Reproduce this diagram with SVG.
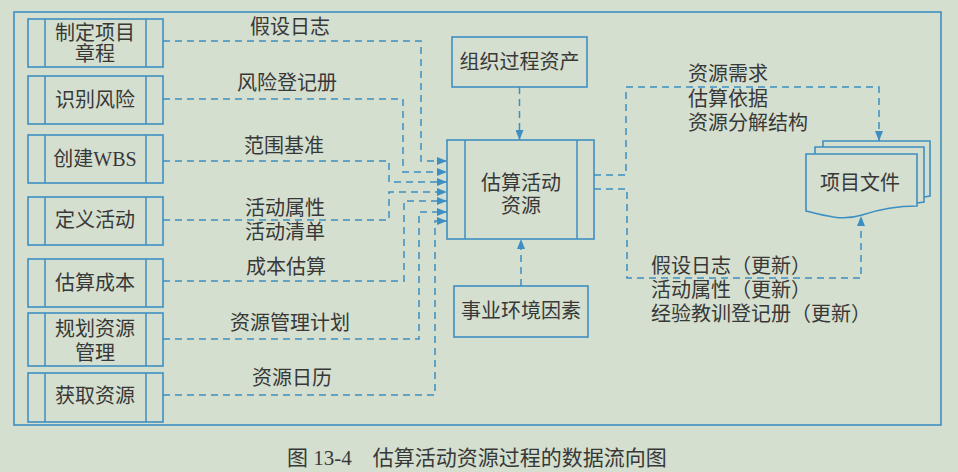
<svg xmlns="http://www.w3.org/2000/svg" width="958" height="472" viewBox="0 0 958 472">
<defs>
<style>
.bg{fill:#d4dfcf}
.box{fill:none;stroke:#3d8fc2;stroke-width:1.6}
.ln{fill:none;stroke:#3d8fc2;stroke-width:1.5}
.dash{fill:none;stroke:#3d8fc2;stroke-width:1.5;stroke-dasharray:7 5}
.t{font-family:"Liberation Serif","Noto Sans CJK SC",serif;font-size:20px;fill:#383838;dominant-baseline:central}
.c{text-anchor:middle}
.cap{font-family:"Liberation Serif","Noto Sans CJK SC",serif;font-size:21px;fill:#383838;dominant-baseline:central}
</style>
<marker id="ah" viewBox="0 0 10 8" refX="10" refY="4" markerWidth="10" markerHeight="8" markerUnits="userSpaceOnUse" orient="auto">
<path d="M0,0 L10,4 L0,8 z" fill="#3d8fc2"/>
</marker>
</defs>
<rect class="bg" x="0" y="0" width="958" height="472"/>
<rect id="frame" class="box" x="14" y="12" width="927" height="413"/>

<g id="n1"><rect class="box" x="28" y="19" width="135" height="48"/><line class="ln" x1="45" y1="19" x2="45" y2="67"/><line class="ln" x1="146" y1="19" x2="146" y2="67"/><text class="t c" x="95" y="33">制定项目</text><text class="t c" x="95" y="54">章程</text></g>
<g id="n2"><rect class="box" x="28" y="76" width="135" height="48"/><line class="ln" x1="45" y1="76" x2="45" y2="124"/><line class="ln" x1="146" y1="76" x2="146" y2="124"/><text class="t c" x="95" y="100">识别风险</text></g>
<g id="n3"><rect class="box" x="28" y="135" width="135" height="48"/><line class="ln" x1="45" y1="135" x2="45" y2="183"/><line class="ln" x1="146" y1="135" x2="146" y2="183"/><text class="t c" x="95" y="159">创建WBS</text></g>
<g id="n4"><rect class="box" x="28" y="197" width="135" height="48"/><line class="ln" x1="45" y1="197" x2="45" y2="245"/><line class="ln" x1="146" y1="197" x2="146" y2="245"/><text class="t c" x="95" y="220">定义活动</text></g>
<g id="n5"><rect class="box" x="28" y="259" width="135" height="48"/><line class="ln" x1="45" y1="259" x2="45" y2="307"/><line class="ln" x1="146" y1="259" x2="146" y2="307"/><text class="t c" x="95" y="283">估算成本</text></g>
<g id="n6"><rect class="box" x="28" y="313" width="135" height="53"/><line class="ln" x1="45" y1="313" x2="45" y2="366"/><line class="ln" x1="146" y1="313" x2="146" y2="366"/><text class="t c" x="95" y="329">规划资源</text><text class="t c" x="95" y="353">管理</text></g>
<g id="n7"><rect class="box" x="28" y="373" width="135" height="49"/><line class="ln" x1="45" y1="373" x2="45" y2="422"/><line class="ln" x1="146" y1="373" x2="146" y2="422"/><text class="t c" x="95" y="396">获取资源</text></g>

<g id="opa"><rect class="box" x="452" y="37" width="135" height="50"/><text class="t c" x="519.5" y="62">组织过程资产</text></g>
<g id="center"><rect class="box" x="447" y="140" width="147" height="99"/><line class="ln" x1="465" y1="140" x2="465" y2="239"/><line class="ln" x1="577" y1="140" x2="577" y2="239"/><text class="t c" x="521" y="183">估算活动</text><text class="t c" x="521" y="206">资源</text></g>
<g id="eef"><rect class="box" x="454" y="286" width="134" height="51"/><text class="t c" x="521" y="311">事业环境因素</text></g>
<g id="docs">
<path class="box" d="M823,147 V141 H930 V196 L924,197"/>
<path class="box" d="M815,154 V147 H924 V202 L917,203"/>
<path class="box" fill="#d4dfcf" d="M806,154 H917 V206 C898,206 880,209 862,215 C843,221 825,216 806,211 Z"/>
<text class="t c" x="860" y="183">项目文件</text>
</g>

<g id="connectors">
<polyline class="dash" marker-end="url(#ah)" points="163,41 421,41 421,161 447,161"/>
<polyline class="dash" marker-end="url(#ah)" points="163,99 403,99 403,172 447,172"/>
<polyline class="dash" marker-end="url(#ah)" points="163,161 389,161 389,182 447,182"/>
<polyline class="dash" marker-end="url(#ah)" points="163,220 389,220 389,192 447,192"/>
<polyline class="dash" marker-end="url(#ah)" points="163,281 404,281 404,201 447,201"/>
<polyline class="dash" marker-end="url(#ah)" points="163,339 419,339 419,212 447,212"/>
<polyline class="dash" marker-end="url(#ah)" points="163,395 435,395 435,221 447,221"/>
<line class="dash" marker-end="url(#ah)" x1="519.5" y1="87" x2="519.5" y2="140"/>
<line class="dash" marker-end="url(#ah)" x1="521" y1="286" x2="521" y2="239"/>
<polyline class="dash" marker-end="url(#ah)" points="594,175 626,175 626,87 879,87 879,141"/>
<polyline class="dash" marker-end="url(#ah)" points="594,189 627,189 627,278 861,278 861,216"/>
<text class="t" x="250" y="27">假设日志</text>
<text class="t" x="237" y="83">风险登记册</text>
<text class="t" x="244" y="146">范围基准</text>
<text class="t" x="245" y="208">活动属性</text>
<text class="t" x="245" y="232">活动清单</text>
<text class="t" x="246" y="267">成本估算</text>
<text class="t" x="230" y="323">资源管理计划</text>
<text class="t" x="252" y="378">资源日历</text>
<text class="t" x="688" y="74">资源需求</text>
<text class="t" x="688" y="99">估算依据</text>
<text class="t" x="688" y="123">资源分解结构</text>
<text class="t" x="651" y="266">假设日志（更新）</text>
<text class="t" x="651" y="290">活动属性（更新）</text>
<text class="t" x="651" y="314">经验教训登记册（更新）</text>
</g>

<text class="cap" x="287" y="458">图 13-4　估算活动资源过程的数据流向图</text>
</svg>
